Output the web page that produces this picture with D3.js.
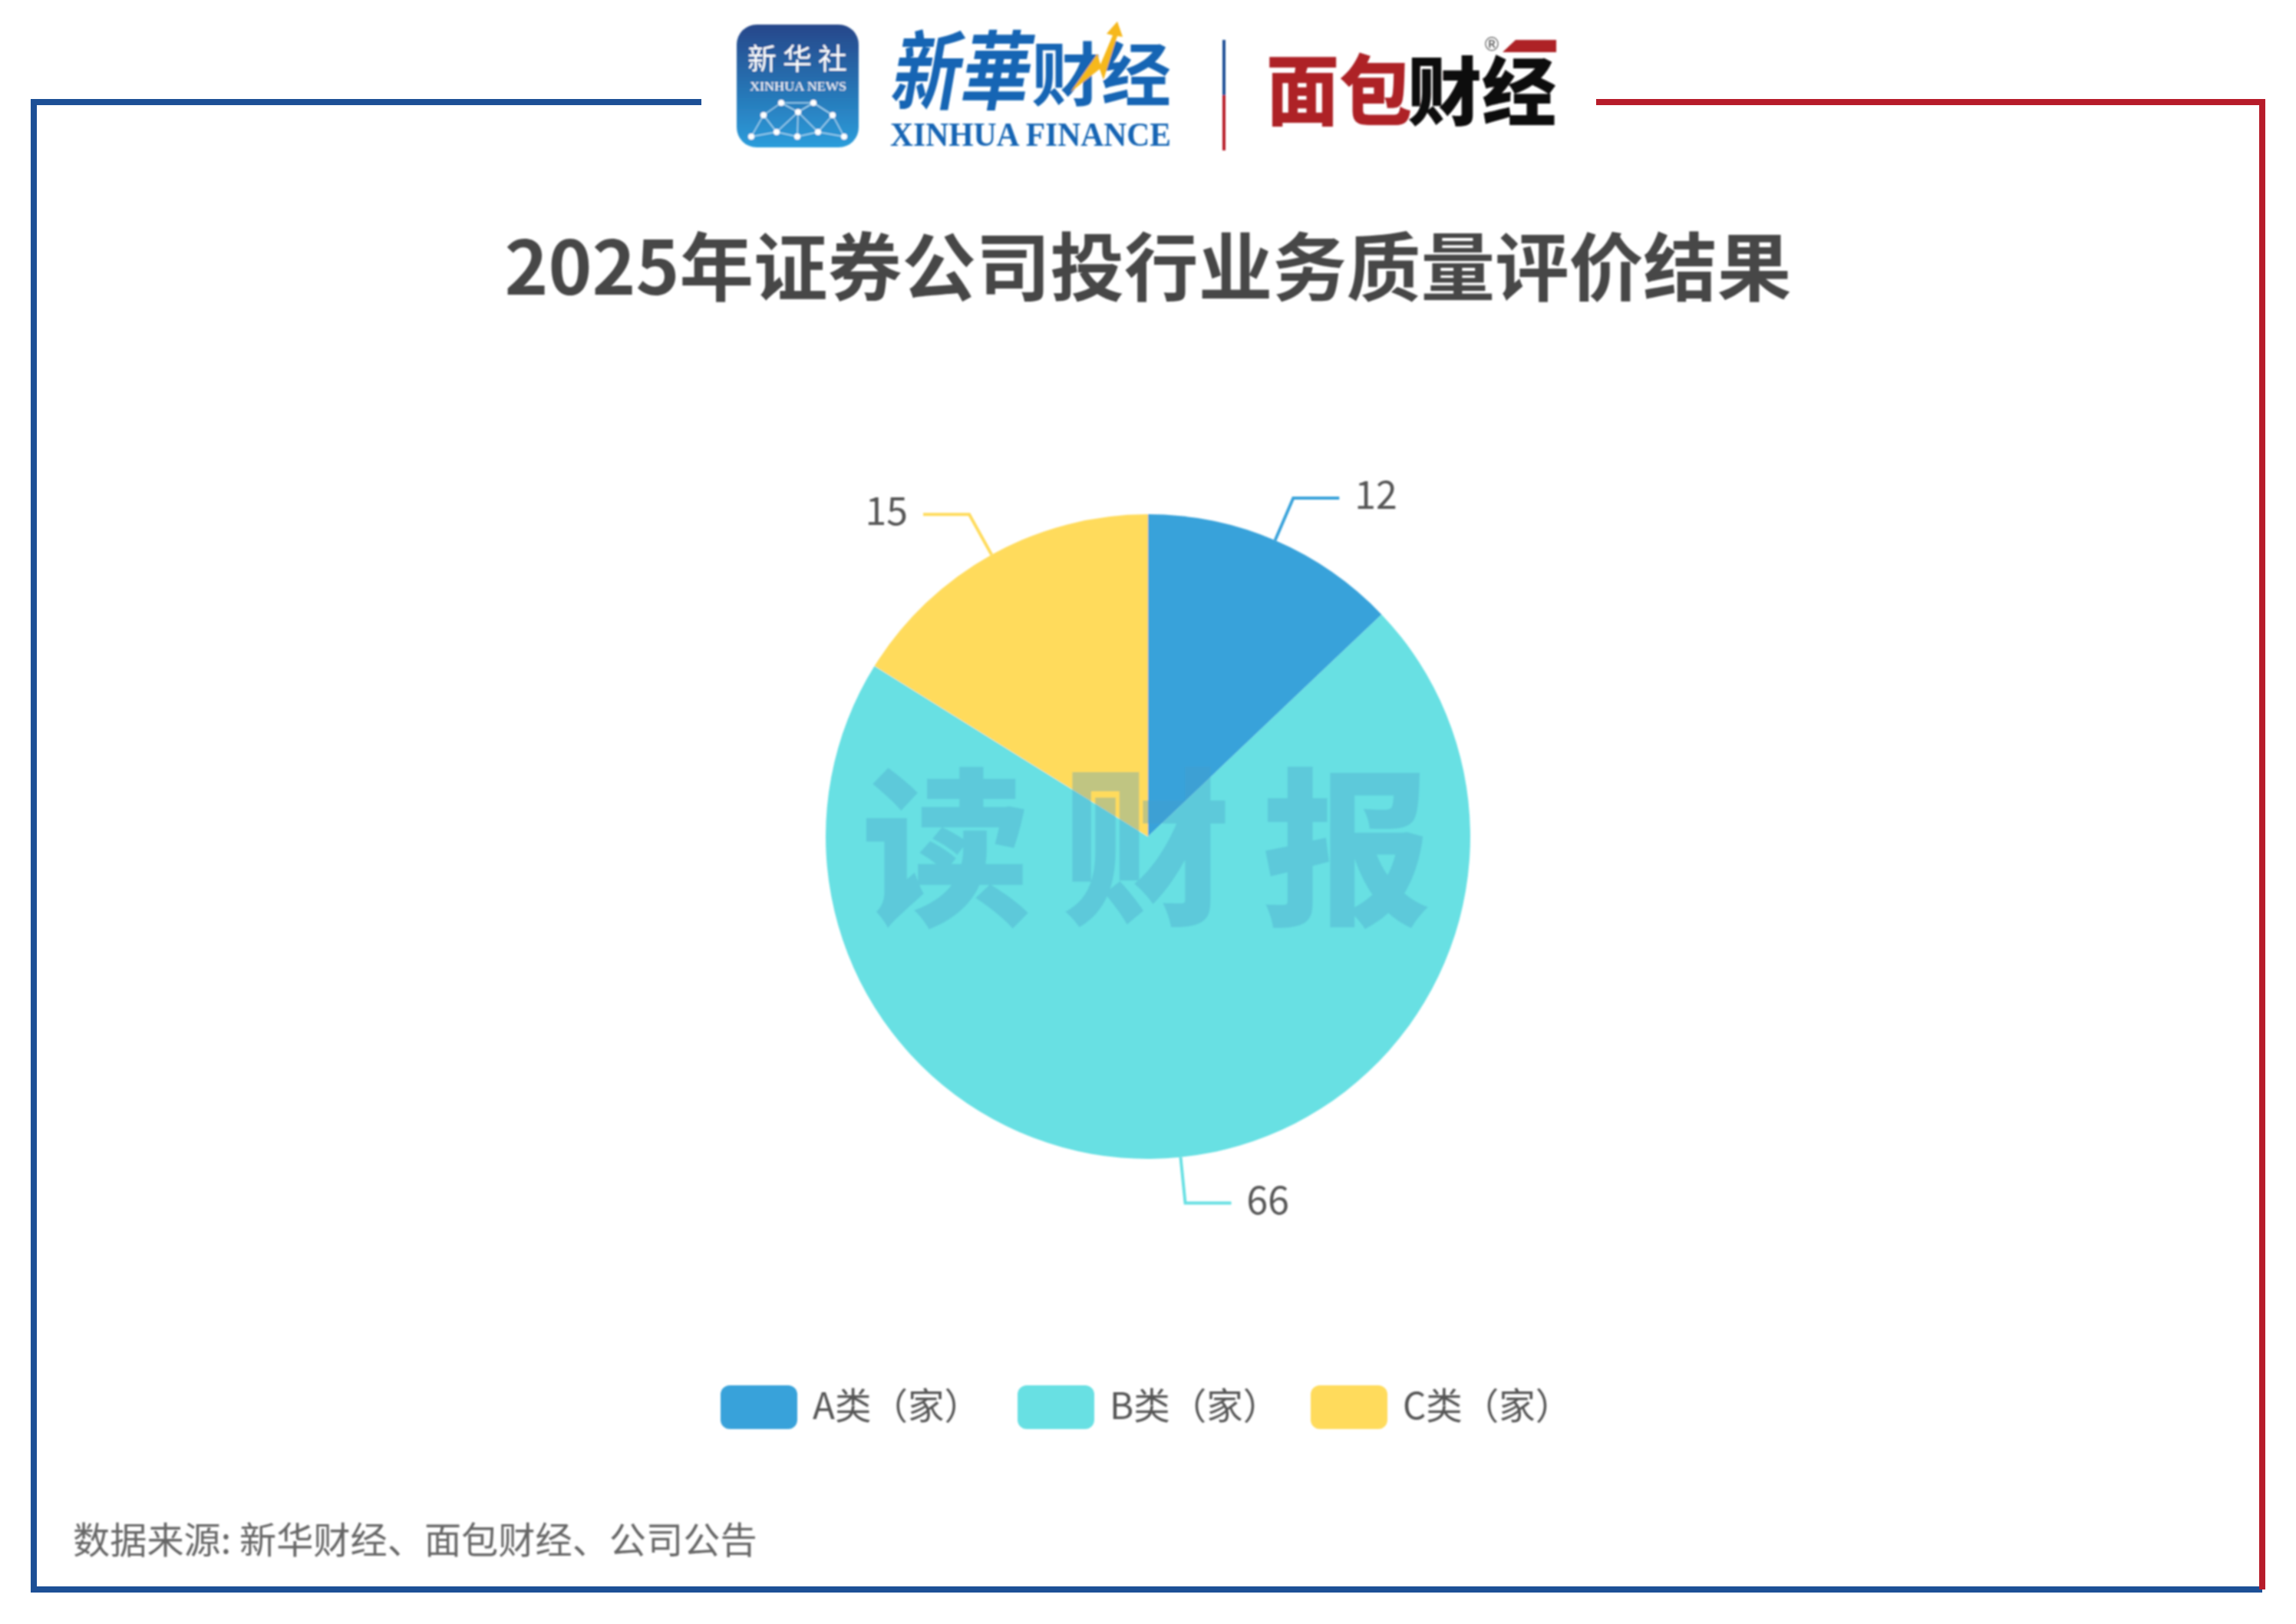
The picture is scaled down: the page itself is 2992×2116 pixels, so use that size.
<!DOCTYPE html>
<html><head><meta charset="utf-8">
<script src="https://cdn.jsdelivr.net/npm/d3@7/dist/d3.min.js"></script>
<style>html,body{margin:0;padding:0;background:#fff}svg{display:block}</style>
</head><body><div id="c"></div>
<script>
const categories = ["A类（家）","B类（家）","C类（家）"];
const values = [12,66,15];
const colors = ["#37A2DA","#67E0E3","#FFDB5C"];
const titleText = "2025年证券公司投行业务质量评价结果";
const sourceText = "数据来源: 新华财经、面包财经、公司公告";
const CJK = '"Noto Sans CJK SC","Noto Sans",sans-serif';
const W=2992,H=2116;
const svg=d3.select("#c").append("svg").attr("width",W).attr("height",H).attr("viewBox",`0 0 ${W} ${H}`);
const defs=svg.append("defs");
defs.append("filter").attr("id","soft").attr("filterUnits","userSpaceOnUse").attr("x",0).attr("y",0).attr("width",W).attr("height",H).append("feGaussianBlur").attr("stdDeviation",1.1);
const grad=defs.append("linearGradient").attr("id","badge").attr("x1",0).attr("x2",0).attr("y1",0).attr("y2",1);
grad.append("stop").attr("offset",0).attr("stop-color","#26478a");
grad.append("stop").attr("offset",1).attr("stop-color","#2a9ddb");
const blue="#1d5096", red="#b71c2a";

// frame (crisp in the reference)
svg.append("path").attr("d","M914,133H44V2071H2948").attr("fill","none").attr("stroke",blue).attr("stroke-width",8);
svg.append("path").attr("d","M2080,133H2948V2071").attr("fill","none").attr("stroke",red).attr("stroke-width",8);

const root=svg.append("g").attr("filter","url(#soft)");

// logos
const logo=root.append("g");
logo.append("rect").attr("x",960).attr("y",32).attr("width",159).attr("height",160).attr("rx",26).attr("fill","url(#badge)");
logo.append("text").attr("x",1039).attr("y",90).attr("text-anchor","middle").attr("font-family",CJK).attr("font-size",38).attr("fill","#fff").attr("textLength",130).attr("lengthAdjust","spacing").text("新华社");
logo.append("text").attr("x",1040).attr("y",118).attr("text-anchor","middle").attr("font-family",'"Liberation Serif",serif').attr("font-size",16).attr("fill","#fff").attr("textLength",126).attr("lengthAdjust","spacingAndGlyphs").text("XINHUA NEWS");
const netNodes=[[979,178],[1012,172],[1039,178],[1066,172],[1100,178],[995,150],[1040,146],[1085,150],[1018,134],[1060,134]];
const netEdges=[[0,5],[5,8],[8,9],[9,7],[7,4],[0,1],[1,2],[2,3],[3,4],[5,1],[1,6],[6,3],[3,7],[8,6],[6,9],[6,2]];
netEdges.forEach(e=>logo.append("line").attr("x1",netNodes[e[0]][0]).attr("y1",netNodes[e[0]][1]).attr("x2",netNodes[e[1]][0]).attr("y2",netNodes[e[1]][1]).attr("stroke","#a9d8f2").attr("stroke-width",1.5));
netNodes.forEach(n=>logo.append("circle").attr("cx",n[0]).attr("cy",n[1]).attr("r",4).attr("fill","#fff"));

logo.append("text").attr("x",1160).attr("y",134).attr("font-family",CJK).attr("font-weight",700).attr("font-size",112).attr("fill","#1565b4").attr("transform","translate(22,0) skewX(-10)").attr("textLength",180).attr("lengthAdjust","spacingAndGlyphs").text("新華");
logo.append("text").attr("x",1344).attr("y",130).attr("font-family",CJK).attr("font-weight",700).attr("font-size",90).attr("fill","#1565b4").attr("textLength",182).attr("lengthAdjust","spacingAndGlyphs").text("财经");
logo.append("path").attr("d","M1395,120L1430,70L1434,84L1450,46L1442,44L1456,28L1463,48L1456,47L1438,104L1433,90Z").attr("fill","#f6b81a");
logo.append("text").attr("x",1160).attr("y",190).attr("font-family",'"Liberation Serif",serif').attr("font-weight",700).attr("font-size",44).attr("fill","#1565b4").attr("textLength",366).attr("lengthAdjust","spacingAndGlyphs").text("XINHUA FINANCE");
logo.append("rect").attr("x",1593).attr("y",52).attr("width",4).attr("height",72).attr("fill",blue);
logo.append("rect").attr("x",1593).attr("y",124).attr("width",4).attr("height",72).attr("fill",red);
logo.append("text").attr("x",1650).attr("y",155).attr("font-family",CJK).attr("font-weight",900).attr("font-size",100).attr("fill","#ae2227").attr("textLength",190).attr("lengthAdjust","spacingAndGlyphs").text("面包");
logo.append("path").attr("d","M1958,68L1975,52H2028V68Z").attr("fill","#ae2227");
// 财经 and its ® mark are one text: the mark sits in the gap above the glyphs
const brand=logo.append("text").attr("font-family",CJK).attr("font-weight",900);
brand.append("tspan").attr("x",1834).attr("y",155).attr("font-size",97).attr("fill","#0d0a0a").text("财经");
brand.append("tspan").attr("x",1932).attr("y",66).attr("font-size",24).attr("font-weight",400).attr("font-family",'"DejaVu Sans",sans-serif').attr("fill","#555").text("®");

// title
root.append("text").attr("x",1496).attr("y",384).attr("text-anchor","middle").attr("font-family",CJK).attr("font-weight",700).attr("font-size",96.6).attr("fill","#464646").text(titleText);

// pie
const cx=1496,cy=1090,R=420,leader=480,hLen=60;
const pie=d3.pie().sort(null).value(d=>d)(values);
const arc=d3.arc().innerRadius(0).outerRadius(R);
const outer=d3.arc().innerRadius(leader).outerRadius(leader);
const edge=d3.arc().innerRadius(R).outerRadius(R);
const g=root.append("g").attr("transform",`translate(${cx},${cy})`);
g.selectAll("path.s").data(pie).join("path").attr("class","s").attr("d",arc).attr("fill",(d,i)=>colors[i]);
g.selectAll("path.l").data(pie).join("path").attr("class","l").attr("fill","none").attr("stroke-width",4)
 .attr("stroke",(d,i)=>colors[i])
 .attr("d",d=>{const a=edge.centroid(d),b=outer.centroid(d),s=b[0]>=0?1:-1;return d3.line()([a,b,[b[0]+s*hLen,b[1]]]);});
g.selectAll("text").data(pie).join("text").attr("font-family",CJK).attr("font-size",50).attr("fill","#555").attr("dominant-baseline","central")
 .attr("text-anchor",d=>outer.centroid(d)[0]>=0?"start":"end")
 .attr("x",d=>{const b=outer.centroid(d),s=b[0]>=0?1:-1;return b[0]+s*(hLen+20);})
 .attr("y",d=>outer.centroid(d)[1]-8).text(d=>d.value);

// watermark
root.append("text").attr("x",1494).attr("y",1188).attr("text-anchor","middle").attr("font-family",CJK).attr("font-weight",900).attr("font-size",220).attr("fill","#4a9fc8").attr("fill-opacity",0.35).attr("textLength",742).attr("lengthAdjust","spacing").text("读财报");

// legend
const legX=d3.scaleOrdinal().domain(categories).range([939,1326,1708]);
const leg=root.append("g").selectAll("g").data(categories).join("g").attr("transform",d=>`translate(${legX(d)},1805)`);
leg.append("rect").attr("width",100).attr("height",57).attr("rx",12).attr("fill",(d,i)=>colors[i]);
leg.append("text").attr("x",120).attr("y",23).attr("dominant-baseline","central").attr("font-family",CJK).attr("font-size",47.5).attr("fill","#555").text(d=>d);

// source
root.append("text").attr("x",95).attr("y",2024).attr("font-family",CJK).attr("font-size",48.2).attr("fill","#666").text(sourceText);
</script></body></html>
